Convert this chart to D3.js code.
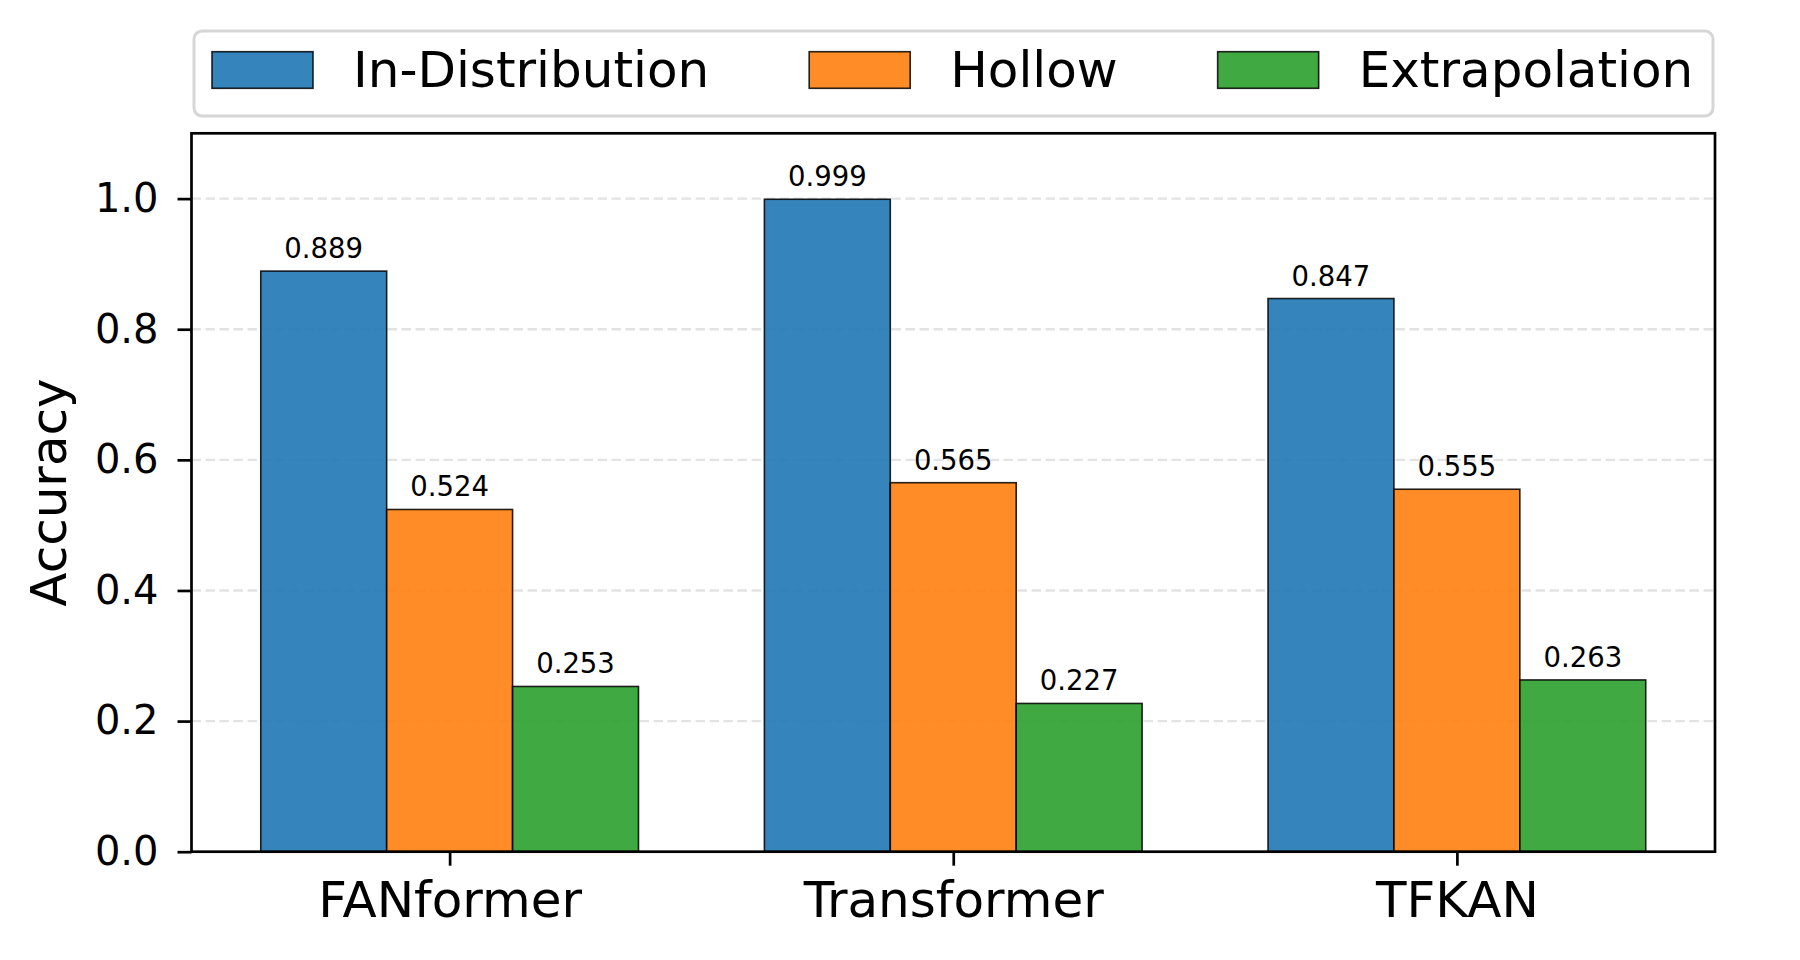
<!DOCTYPE html>
<html>
<head>
<meta charset="utf-8">
<script src="https://cdn.jsdelivr.net/npm/d3@7"></script>
<style>
  html, body { margin: 0; padding: 0; background: #ffffff; }
  svg { display: block; font-family: "DejaVu Sans", sans-serif; }
</style>
</head>
<body>
<svg id="chart" width="1800" height="960"></svg>
<script>
const categories = ["FANformer", "Transformer", "TFKAN"];
const seriesNames = ["In-Distribution", "Hollow", "Extrapolation"];
const inDistribution = [0.889, 0.999, 0.847];
const hollow = [0.524, 0.565, 0.555];
const extrapolation = [0.253, 0.227, 0.263];
const seriesColors = ["#1f77b4", "#ff7f0e", "#2ca02c"];
const yTicks = [0.0, 0.2, 0.4, 0.6, 0.8, 1.0];
const yLabel = "Accuracy";

const seriesValues = [inDistribution, hollow, extrapolation];

const svg = d3.select("#chart");
svg.append("rect").attr("width", 1800).attr("height", 960).attr("fill", "#ffffff");

const plot = { left: 191.5, right: 1715, top: 133.3, bottom: 851.7 };
const barW = 0.25;

const x = d3.scaleLinear().domain([-0.5125, 2.5125]).range([plot.left, plot.right]);
const y = d3.scaleLinear().domain([0, 1.1]).range([plot.bottom, plot.top]);

// grid
const gGrid = svg.append("g");
gGrid.selectAll("line").data(yTicks.filter(t => t > 0)).join("line")
  .attr("x1", plot.left).attr("x2", plot.right)
  .attr("y1", d => y(d)).attr("y2", d => y(d))
  .attr("stroke", "#e3e3e3").attr("stroke-width", 2.4)
  .attr("stroke-dasharray", "9.5,4.5");

// bars
const gBars = svg.append("g");
seriesValues.forEach((vals, s) => {
  const off = (s - 1) * barW;
  gBars.selectAll(null).data(vals).join("rect")
    .attr("x", (d, i) => x(i + off - barW / 2))
    .attr("width", (d, i) => x(i + off + barW / 2) - x(i + off - barW / 2))
    .attr("y", d => y(d))
    .attr("height", d => y(0) - y(d))
    .attr("fill", seriesColors[s]).attr("fill-opacity", 0.9)
    .attr("stroke", "#000").attr("stroke-opacity", 0.85).attr("stroke-width", 1.6);
  gBars.selectAll(null).data(vals).join("text")
    .attr("x", (d, i) => x(i + off))
    .attr("y", d => y(d) - 13)
    .attr("text-anchor", "middle")
    .attr("font-size", 27.5)
    .attr("fill", "#000")
    .text(d => d.toFixed(3));
});

// axes frame
svg.append("rect")
  .attr("x", plot.left).attr("y", plot.top)
  .attr("width", plot.right - plot.left).attr("height", plot.bottom - plot.top)
  .attr("fill", "none").attr("stroke", "#000").attr("stroke-width", 2.7);

// y axis
const yAxis = d3.axisLeft(y).tickValues(yTicks).tickFormat(d3.format(".1f"))
  .tickSize(14).tickPadding(19);
const gy = svg.append("g").attr("transform", `translate(${plot.left},0)`).call(yAxis);
gy.select(".domain").remove();
gy.selectAll(".tick line").attr("stroke", "#000").attr("stroke-width", 2.7);
gy.selectAll(".tick text").attr("font-size", 40).attr("fill", "#000")
  .attr("font-family", "DejaVu Sans");

// x axis
const xAxis = d3.axisBottom(x).tickValues(categories.map((c, i) => i))
  .tickFormat(i => categories[i]).tickSize(14).tickPadding(16);
const gx = svg.append("g").attr("transform", `translate(0,${plot.bottom})`).call(xAxis);
gx.select(".domain").remove();
gx.selectAll(".tick line").attr("stroke", "#000").attr("stroke-width", 2.7);
gx.selectAll(".tick text").attr("font-size", 50).attr("fill", "#000")
  .attr("font-family", "DejaVu Sans");

// y label
svg.append("text")
  .attr("transform", `translate(66,${(plot.top + plot.bottom) / 2}) rotate(-90)`)
  .attr("text-anchor", "middle")
  .attr("font-size", 50)
  .attr("fill", "#000")
  .text(yLabel);

// legend
const legend = svg.append("g");
legend.append("rect")
  .attr("x", 194).attr("y", 31).attr("width", 1519).attr("height", 85)
  .attr("rx", 8).attr("ry", 8)
  .attr("fill", "#ffffff").attr("stroke", "#d6d6d6").attr("stroke-width", 3);
let lx = 212;
seriesNames.forEach((name, s) => {
  legend.append("rect")
    .attr("x", lx).attr("y", 51.7).attr("width", 101).attr("height", 36.6)
    .attr("fill", seriesColors[s]).attr("fill-opacity", 0.9)
    .attr("stroke", "#000").attr("stroke-opacity", 0.85).attr("stroke-width", 1.6);
  const t = legend.append("text")
    .attr("x", lx + 141).attr("y", 86.5)
    .attr("font-size", 50).attr("fill", "#000")
    .text(name);
  const w = t.node().getComputedTextLength();
  lx = lx + 141 + w + 100;
});
</script>
</body>
</html>
